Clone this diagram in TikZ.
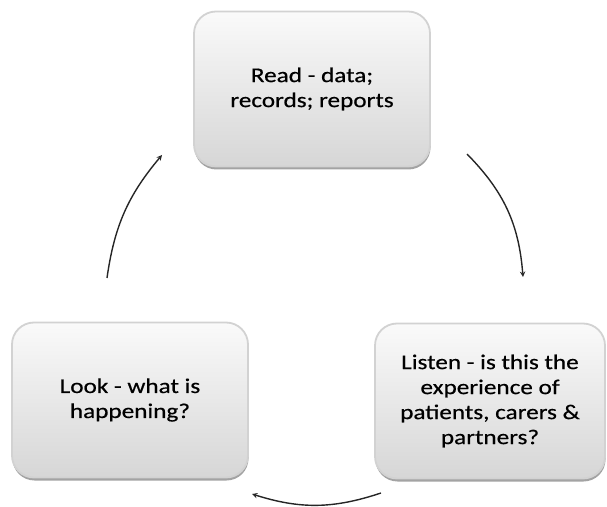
\documentclass[tikz,border=0pt]{standalone}
\usepackage{fontspec}
\setmainfont{Carlito}[FakeStretch=1.2, FakeBold=0.5]
\usetikzlibrary{shadows}
\colorlet{boxrim}{gray!35}
\colorlet{boxtop}{gray!4}
\colorlet{boxbot}{gray!32}

\tikzset{
  phase/.style={rectangle, rounded corners=22pt,
    minimum width=236pt, minimum height=155pt, inner sep=0pt,
    draw=boxrim, line width=1.8pt, top color=boxtop, bottom color=boxbot,
    drop shadow={shadow xshift=0.5pt, shadow yshift=-3pt, fill=gray!90, opacity=0.8},
    align=center, font=\fontsize{21}{25}\selectfont},
  looparrow/.style={line width=1.4pt, black!85, -stealth, bend left=#1},
}

\begin{document}
\begin{tikzpicture}[x=1pt, y=1pt]

    \useasboundingbox (0,0) rectangle (607,506);

    % the three steps
    \node[phase] (read) at (312,417) {Read - data;\\records; reports};
    \node[phase] (look) at (130,106) {Look - what is\\happening?};
    \node[phase, minimum width=230pt] (listen) at (490,105)
        {Listen - is this the\\experience of\\patients, carers \&\\partners?};

    % ends of the arrows round the cycle
    \coordinate (readout)   at (467,352);
    \coordinate (listenin)  at (523,229);
    \coordinate (listenout) at (381,13);
    \coordinate (lookin)    at (252,12);
    \coordinate (lookout)   at (107,228);
    \coordinate (readin)    at (162,351);

    \draw[looparrow=20] (readout) to (listenin);
    \draw[looparrow=18] (listenout) to (lookin);
    \draw[looparrow=16] (lookout) to (readin);

\end{tikzpicture}
\end{document}
